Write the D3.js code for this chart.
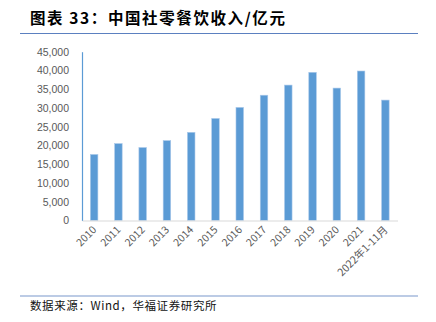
<!DOCTYPE html>
<html>
<head>
<meta charset="utf-8">
<script src="https://cdn.jsdelivr.net/npm/d3@7"></script>
<style>
  html, body { margin: 0; padding: 0; background: #fff; }
  svg { display: block; }
</style>
</head>
<body>
<svg id="chart" width="436" height="322"></svg>
<script>
// 中国社零餐饮收入（亿元）
const years = ["2010", "2011", "2012", "2013", "2014", "2015", "2016", "2017", "2018", "2019", "2020", "2021", "2022年1-11月"];
const revenue = [17600, 20500, 19450, 21300, 23500, 27200, 30150, 33400, 36100, 39500, 35300, 39850, 32100];
const yTicks = [0, 5000, 10000, 15000, 20000, 25000, 30000, 35000, 40000, 45000];

const svg = d3.select("#chart");
const font = "'Noto Sans CJK SC', 'Liberation Sans', sans-serif";

const plot = { left: 82, right: 397.5, top: 51.7, bottom: 220.5 };

const x = d3.scaleBand().domain(years).range([plot.left, plot.right]).paddingInner(0.69).paddingOuter(0.345);
const y = d3.scaleLinear().domain([0, 45000]).range([plot.bottom, plot.top]);

// Title and rules
svg.append("text")
  .attr("x", 30).attr("y", 24)
  .attr("font-family", font).attr("font-size", 15.5).attr("font-weight", "bold")
  .attr("letter-spacing", 1.6)
  .attr("fill", "#000")
  .text("图表 33：中国社零餐饮收入/亿元");
svg.append("line").attr("x1", 20).attr("x2", 418).attr("y1", 33.5).attr("y2", 33.5)
  .attr("stroke", "#5b80c0").attr("stroke-width", 1.2);
svg.append("line").attr("x1", 20).attr("x2", 418).attr("y1", 296).attr("y2", 296)
  .attr("stroke", "#7b97cc").attr("stroke-width", 1.2);
svg.append("text")
  .attr("x", 30).attr("y", 310)
  .attr("font-family", font).attr("font-size", 11.5)
  .attr("letter-spacing", 0.6)
  .attr("fill", "#111")
  .text("数据来源：Wind，华福证券研究所");

// Bars
svg.append("g").selectAll("rect").data(revenue).join("rect")
  .attr("x", (d, i) => x(years[i]))
  .attr("width", x.bandwidth())
  .attr("y", d => y(d))
  .attr("height", d => y(0) - y(d))
  .attr("fill", "#5b9bd5")
  .attr("stroke", "#a9c8ea").attr("stroke-width", 0.6);

// Y axis
const yAxis = svg.append("g").attr("transform", `translate(${plot.left},0)`)
  .call(d3.axisLeft(y).tickValues(yTicks).tickSize(0).tickPadding(13).tickFormat(d3.format(",")));
yAxis.select(".domain").attr("stroke", "#5b9bd5").attr("stroke-width", 1.2);
yAxis.selectAll("text").attr("font-family", "'Liberation Sans', Arial, sans-serif")
  .attr("font-size", 10.5).attr("fill", "#595959");

// X axis
const xAxis = svg.append("g").attr("transform", `translate(0,${plot.bottom})`)
  .call(d3.axisBottom(x).tickSize(0).tickPadding(0));
xAxis.select(".domain").attr("stroke", "#d9d9d9").attr("stroke-width", 1.2);
xAxis.selectAll("text")
  .attr("font-family", font).attr("font-size", 10.5).attr("fill", "#595959")
  .attr("text-anchor", "end")
  .attr("dy", 0)
  .attr("transform", "translate(3,10) rotate(-45)");
</script>
</body>
</html>
